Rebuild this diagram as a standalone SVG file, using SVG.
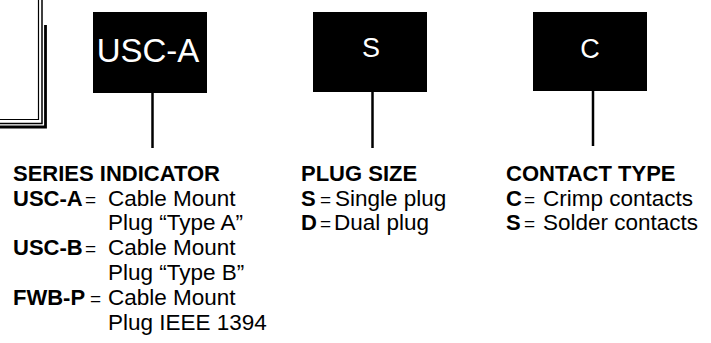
<svg xmlns="http://www.w3.org/2000/svg" width="711" height="343" viewBox="0 0 711 343">
<style>
.box{fill:#000}
.bt{fill:#fff;font-family:"Liberation Sans",Arial,sans-serif;text-anchor:middle}
.t{font-family:"Liberation Sans",Arial,sans-serif;font-size:22.5px;fill:#000}
.b{font-weight:bold;font-size:22px}
.eq{font-size:19px}
.ln{stroke:#000;stroke-width:2.5;fill:none}
.fr{stroke:#000;fill:none}
</style>
<rect width="711" height="343" fill="#fff"/>
<g id="frame">
<path class="fr" stroke-width="1.2" d="M38.5 0V119.5H0"/>
<path class="fr" stroke-width="1.5" d="M42 0V123.5H0"/>
<path class="fr" stroke-width="2.8" d="M45.5 25V127H0"/>
</g>
<g id="connectors">
<line class="ln" x1="152.5" y1="93" x2="152.5" y2="148"/>
<line class="ln" x1="372.5" y1="92" x2="372.5" y2="148"/>
<line class="ln" x1="593" y1="91" x2="593" y2="146"/>
</g>
<g id="node-usca">
<rect class="box" x="93" y="12" width="114" height="81"/>
<text class="bt" x="148" y="62" font-size="33">USC-A</text>
</g>
<g id="node-s">
<rect class="box" x="313" y="12" width="114" height="80"/>
<text class="bt" x="371" y="57" font-size="27">S</text>
</g>
<g id="node-c">
<rect class="box" x="533" y="12" width="114" height="79"/>
<text class="bt" x="590" y="58" font-size="27">C</text>
</g>
<g id="series" class="t">
<text x="13" y="181" class="b">SERIES INDICATOR</text>
<text x="13" y="205.5"><tspan class="b">USC-A</tspan><tspan class="eq" x="85">=</tspan><tspan x="108">Cable Mount</tspan></text>
<text x="108" y="230">Plug “Type A”</text>
<text x="13" y="255"><tspan class="b">USC-B</tspan><tspan class="eq" x="85">=</tspan><tspan x="108">Cable Mount</tspan></text>
<text x="108" y="280">Plug “Type B”</text>
<text x="13" y="305"><tspan class="b">FWB-P</tspan><tspan class="eq" x="90">=</tspan><tspan x="108">Cable Mount</tspan></text>
<text x="108" y="330">Plug IEEE 1394</text>
</g>
<g id="plugsize" class="t">
<text x="301" y="181" class="b">PLUG SIZE</text>
<text x="301" y="205.5"><tspan class="b">S</tspan><tspan class="eq" x="320">=</tspan><tspan x="335">Single plug</tspan></text>
<text x="301" y="230"><tspan class="b">D</tspan><tspan class="eq" x="320">=</tspan><tspan x="334">Dual plug</tspan></text>
</g>
<g id="contacttype" class="t">
<text x="506" y="181" class="b">CONTACT TYPE</text>
<text x="506" y="205.5"><tspan class="b">C</tspan><tspan class="eq" x="524">=</tspan><tspan x="543">Crimp contacts</tspan></text>
<text x="506" y="230"><tspan class="b">S</tspan><tspan class="eq" x="524">=</tspan><tspan x="543">Solder contacts</tspan></text>
</g>
</svg>
